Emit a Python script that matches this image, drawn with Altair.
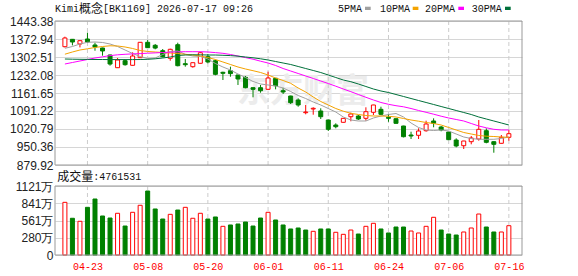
import altair as alt
import pandas as pd

# ---------------- data ----------------
dates = ["04-20", "04-21", "04-22", "04-23", "04-24", "04-27", "04-28", "04-29", "04-30", "05-06",
         "05-07", "05-08", "05-11", "05-12", "05-13", "05-14", "05-15", "05-18", "05-19", "05-20",
         "05-21", "05-22", "05-25", "05-26", "05-27", "05-28", "05-29", "06-01", "06-02", "06-03",
         "06-04", "06-05", "06-08", "06-09", "06-10", "06-11", "06-12", "06-15", "06-16", "06-17",
         "06-18", "06-22", "06-23", "06-24", "06-25", "06-26", "06-29", "06-30", "07-01", "07-02",
         "07-03", "07-06", "07-07", "07-08", "07-09", "07-10", "07-13", "07-14", "07-15", "07-16"]

open_p = [1342.8, 1371.7, 1353.4, 1373.0, 1349.5, 1337.7, 1310.3, 1260.6, 1288.0, 1270.0,
          1299.8, 1360.0, 1348.3, 1327.2, 1297.4, 1350.6, 1276.3, 1264.6, 1277.9, 1303.7,
          1288.0, 1242.6, 1248.9, 1232.1, 1223.1, 1182.4, 1182.4, 1176.1, 1219.2, 1170.6,
          1149.9, 1134.3, 1084.6, 1099.0, 1091.2, 1056.0, 1036.4, 1047.0, 1068.9, 1071.6,
          1062.6, 1086.1, 1097.8, 1066.5, 1061.0, 1032.5, 997.3, 996.1, 1014.1, 1052.1,
          1028.6, 1009.0, 977.7, 955.4, 971.1, 981.6, 1014.1, 971.1, 964.8, 988.3]
high_p = [1382.0, 1373.0, 1368.0, 1397.6, 1358.5, 1339.0, 1312.0, 1298.6, 1293.5, 1320.9,
          1361.0, 1369.0, 1353.4, 1333.8, 1335.0, 1358.5, 1294.7, 1280.2, 1323.0, 1314.3,
          1292.0, 1245.0, 1264.6, 1233.0, 1228.0, 1183.5, 1193.0, 1245.0, 1220.5, 1182.0,
          1151.0, 1140.9, 1114.7, 1105.7, 1101.8, 1057.0, 1043.0, 1063.5, 1084.6, 1075.5,
          1105.7, 1115.5, 1108.0, 1079.5, 1062.0, 1033.5, 1010.2, 1023.5, 1053.3, 1062.6,
          1032.5, 1010.0, 984.4, 974.5, 993.4, 1056.0, 1023.5, 972.0, 997.3, 1016.9]
low_p = [1340.0, 1348.0, 1340.0, 1360.0, 1327.0, 1307.6, 1268.5, 1259.5, 1268.5, 1269.0,
         1298.5, 1338.0, 1332.6, 1301.0, 1288.0, 1266.0, 1264.6, 1260.6, 1277.0, 1277.9,
         1230.9, 1212.5, 1225.4, 1193.0, 1180.0, 1144.8, 1162.8, 1173.0, 1176.0, 1157.7,
         1118.6, 1108.0, 1078.3, 1076.7, 1059.9, 1013.0, 1023.5, 1046.0, 1050.9, 1056.0,
         1053.3, 1075.5, 1075.5, 1049.0, 1042.0, 988.0, 981.6, 981.6, 1010.2, 1027.5,
         1011.8, 977.7, 949.0, 942.5, 960.9, 975.0, 964.8, 928.0, 964.0, 975.0]
close_p = [1376.9, 1361.2, 1366.3, 1361.2, 1341.6, 1326.0, 1275.0, 1290.8, 1272.4, 1306.4,
           1360.0, 1339.0, 1337.5, 1303.7, 1332.6, 1268.5, 1272.4, 1280.2, 1319.3, 1283.0,
           1234.8, 1238.7, 1237.5, 1216.4, 1182.4, 1176.0, 1170.6, 1220.4, 1190.2, 1165.6,
           1123.7, 1114.7, 1087.3, 1101.8, 1068.9, 1019.6, 1029.8, 1062.6, 1079.5, 1059.9,
           1088.5, 1114.7, 1078.3, 1062.6, 1043.0, 990.6, 993.4, 1013.0, 1040.3, 1043.1,
           1016.9, 979.0, 954.3, 973.8, 985.6, 1019.6, 968.7, 960.9, 988.3, 1002.4]

# volume in 万 (10k shares)
volume = [856, 597, 548, 775, 910, 634, 601, 678, 471, 694,
          808, 1040, 748, 585, 661, 731, 775, 597, 678, 585,
          618, 466, 488, 504, 536, 471, 601, 694, 569, 488,
          423, 439, 406, 385, 423, 423, 369, 336, 406, 341,
          466, 515, 423, 358, 455, 455, 390, 358, 466, 613,
          406, 341, 325, 374, 439, 666, 455, 374, 374, 476.1531]

ma5 = [1336.6, 1343.6, 1353.4, 1360.1, 1361.2, 1359.3, 1353.4, 1343.6, 1329.9, 1316.2,
       1304.5, 1296.7, 1298.6, 1312.3, 1324.1, 1326.0, 1313.1, 1306.4, 1304.5, 1294.7,
       1277.1, 1263.4, 1251.7, 1236.0, 1222.3, 1206.7, 1196.9, 1193.0, 1189.1, 1181.2,
       1167.5, 1151.9, 1140.1, 1126.4, 1114.7, 1101.0, 1087.3, 1067.8, 1056.0, 1052.1,
       1052.1, 1063.8, 1071.7, 1077.5, 1081.4, 1067.8, 1044.3, 1026.7, 1016.9, 1014.9,
       1016.9, 1013.0, 1001.2, 989.5, 983.6, 980.5, 980.5, 980.5, 983.6, 989.5]
ma10 = [1313.5, 1322.1, 1329.9, 1334.6, 1339.7, 1343.6, 1346.4, 1345.6, 1341.7, 1335.8,
        1328.0, 1324.1, 1322.1, 1320.1, 1318.2, 1316.2, 1313.1, 1310.4, 1306.4, 1300.6,
        1292.7, 1283.0, 1273.2, 1263.4, 1255.6, 1248.9, 1241.9, 1232.1, 1220.4, 1210.6,
        1199.6, 1181.2, 1165.6, 1146.0, 1128.4, 1114.7, 1101.0, 1090.4, 1082.2, 1077.5,
        1073.6, 1071.7, 1071.7, 1070.5, 1067.8, 1061.9, 1056.0, 1051.3, 1046.2, 1042.3,
        1036.4, 1026.7, 1016.9, 1007.1, 1001.2, 995.4, 992.6, 991.4, 989.5, 988.3]
ma20 = [1275.1, 1281.0, 1286.9, 1292.7, 1298.6, 1303.3, 1308.0, 1311.1, 1313.1, 1314.7,
        1315.8, 1317.4, 1318.6, 1320.1, 1321.3, 1322.5, 1323.3, 1323.3, 1323.3, 1322.1,
        1319.7, 1317.0, 1312.3, 1306.4, 1300.2, 1293.9, 1286.1, 1279.0, 1269.3, 1257.5,
        1247.7, 1238.0, 1228.2, 1218.4, 1208.6, 1198.8, 1188.3, 1177.3, 1166.8, 1155.8,
        1144.8, 1134.3, 1124.5, 1117.4, 1112.0, 1107.7, 1101.0, 1093.2, 1086.1, 1078.7,
        1070.9, 1063.8, 1058.0, 1052.1, 1042.3, 1032.5, 1025.5, 1019.6, 1016.9, 1016.9]
ma30 = [1294.7, 1293.9, 1293.5, 1293.1, 1292.7, 1292.7, 1292.4, 1292.4, 1292.4, 1292.4,
        1292.7, 1293.5, 1295.5, 1298.6, 1302.5, 1308.4, 1310.3, 1311.1, 1311.1, 1310.3,
        1310.3, 1309.2, 1308.0, 1305.7, 1302.5, 1299.4, 1295.5, 1290.8, 1284.9, 1279.0,
        1273.2, 1265.4, 1257.5, 1249.7, 1241.8, 1232.1, 1222.3, 1212.5, 1205.9, 1196.9,
        1187.1, 1177.3, 1169.5, 1163.6, 1155.8, 1148.0, 1140.1, 1132.3, 1124.5, 1116.7,
        1108.8, 1101.0, 1093.2, 1085.4, 1077.5, 1067.8, 1059.9, 1052.1, 1044.3, 1036.4]

price_ticks = [879.92, 950.36, 1020.79, 1091.22, 1161.65, 1232.08, 1302.51, 1372.94, 1443.38]
vol_ticks = [0, 280.35, 560.7, 841.05, 1121.4]
label_dates = ["04-23", "05-08", "05-20", "06-01", "06-11", "06-24", "07-06", "07-16"]
ma_names = ["5PMA", "10PMA", "20PMA", "30PMA"]

title_name = "Kimi"
title_cjk = "概念"
title_rest = "[BK1169] 2026-07-17 09:26"
vol_title = "成交量"
watermark = "东方财富"

# ---------------- styling ----------------
RED = "#ff0000"
GREEN = "#008000"
MA_COLORS = ["#a0a0a0", "#f4a300", "#ff00ff", "#00703a"]
BORDER = "#999999"
GRID = "#d6d6d6"
MONO = "Liberation Mono"
CJK = "Noto Sans CJK SC"
SANS = "Liberation Sans"

W, H = 467, 234
PH = 144          # price panel bottom (plot coords)
VT, VB = 165, 234  # volume panel top/bottom

n = len(dates)
df = pd.DataFrame({
    "i": list(range(n)), "date": dates,
    "open": open_p, "high": high_p, "low": low_p, "close": close_p,
    "vol": volume, "ma5": ma5, "ma10": ma10, "ma20": ma20, "ma30": ma30,
})
df["up"] = df["close"] >= df["open"]
df["vup"] = [True] + [c > p for c, p in zip(close_p[1:], close_p[:-1])]

tick_idx = [dates.index(d) for d in label_dates]
label_expr = "[" + ",".join("'%s'" % d for d in dates) + "][datum.value]"

xscale = alt.Scale(domain=[-0.65, n + 0.08], nice=False, zero=False)
xaxis = alt.Axis(values=tick_idx, labelExpr=label_expr, title=None, grid=False,
                 ticks=False, tickSize=0, domain=False, labelColor=RED, labelFont=MONO,
                 labelFontSize=10, labelPadding=6, labelFlush=False, labelOverlap=False)
X = alt.X("i:Q", scale=xscale, axis=xaxis)

pscale = alt.Scale(domain=[price_ticks[0], price_ticks[-1]], range=[PH, 0], nice=False, zero=False)
paxis = alt.Axis(values=price_ticks, format=".2f", title=None, grid=True, gridColor=GRID,
                 ticks=False, tickSize=0, domain=False, labelFont=SANS, labelFontSize=12,
                 labelColor="#222222", labelPadding=2, labelFlush=False, labelOverlap=False,
                 orient="left")
vscale = alt.Scale(domain=[0, vol_ticks[-1]], range=[VB, VT], nice=False)
vaxis = alt.Axis(values=vol_ticks, title=None, grid=True, gridColor=GRID,
                 labelExpr="datum.value == 0 ? '0' : format(datum.value, '.0f') + '万'",
                 ticks=False, tickSize=0, domain=False, labelFont=SANS, labelFontSize=12,
                 labelColor="#222222", labelPadding=2, labelFlush=False, labelOverlap=False,
                 orient="left")

base = alt.Chart(df)
one = pd.DataFrame({"a": [0]})

# watermark
wm = alt.Chart(pd.DataFrame({"t": [watermark]})).mark_text(
    font=CJK, fontSize=33, fontWeight="bold", color="#ececec", align="left", baseline="middle"
).encode(x=alt.value(182), y=alt.value(71), text="t:N")

# vertical dashed gridlines
tick_df = pd.DataFrame({"i": tick_idx})
vg_p = alt.Chart(tick_df).mark_rule(color="#cccccc", strokeDash=[4, 3], strokeWidth=1).encode(
    x=X, y=alt.value(0), y2=alt.value(PH))
vg_v = alt.Chart(tick_df).mark_rule(color="#cccccc", strokeDash=[4, 3], strokeWidth=1).encode(
    x=X, y=alt.value(VT), y2=alt.value(VB))

# candles
wick_up = base.transform_filter("datum.up").mark_rule(color=RED, strokeWidth=1).encode(
    x=X, y=alt.Y("low:Q", scale=pscale, axis=paxis), y2="high:Q")
wick_dn = base.transform_filter("!datum.up").mark_rule(color=GREEN, strokeWidth=1).encode(
    x=X, y=alt.Y("low:Q", scale=pscale, axis=paxis), y2="high:Q")
body_up = base.transform_filter("datum.up").mark_bar(size=4, fill="white", stroke=RED, strokeWidth=1).encode(
    x=X, y=alt.Y("open:Q", scale=pscale, axis=paxis), y2="close:Q")
body_dn = base.transform_filter("!datum.up").mark_bar(size=4, fill=GREEN, stroke=GREEN, strokeWidth=1).encode(
    x=X, y=alt.Y("open:Q", scale=pscale, axis=paxis), y2="close:Q")

ma_lines = base.transform_fold(["ma5", "ma10", "ma20", "ma30"], as_=["key", "value"]).mark_line(
    strokeWidth=1).encode(
    x=X, y=alt.Y("value:Q", scale=pscale, axis=paxis),
    color=alt.Color("key:N", scale=alt.Scale(domain=["ma5", "ma10", "ma20", "ma30"], range=MA_COLORS),
                    legend=None))

price_layer = alt.layer(wick_up, wick_dn, body_up, body_dn, ma_lines)

# volume
vol_up = base.transform_filter("datum.vup").mark_bar(size=4, fill="white", stroke=RED, strokeWidth=1).encode(
    x=X, y=alt.Y("vol:Q", scale=vscale, axis=vaxis))
vol_dn = base.transform_filter("!datum.vup").mark_bar(size=4, fill=GREEN, stroke=GREEN, strokeWidth=1).encode(
    x=X, y=alt.Y("vol:Q", scale=vscale, axis=vaxis))
vol_layer = alt.layer(vol_up, vol_dn)

# panel borders
border_p = alt.Chart(one).mark_rect(fill="transparent", stroke=BORDER, strokeWidth=1).encode(
    x=alt.value(0), x2=alt.value(W), y=alt.value(0), y2=alt.value(PH))
border_v = alt.Chart(one).mark_rect(fill="transparent", stroke=BORDER, strokeWidth=1).encode(
    x=alt.value(0), x2=alt.value(W), y=alt.value(VT), y2=alt.value(VB))


def txt(s, x, y, font, size, color="#111111"):
    return alt.Chart(pd.DataFrame({"t": [s]})).mark_text(
        font=font, fontSize=size, color=color, align="left", baseline="middle"
    ).encode(x=alt.value(x), y=alt.value(y), text="t:N")


texts = [
    txt(title_name, 0, -12.5, MONO, 10),
    txt(title_cjk, 24, -12.5, CJK, 12),
    txt(title_rest, 48, -12.5, MONO, 10),
    txt(vol_title, 2.3, 156, CJK, 12),
    txt(":" + str(int(round(volume[-1] * 10000))), 38.3, 156, MONO, 10),
]

legend_text_x = [283, 325, 370, 416.7]
legend_sq_x = [310, 357.7, 403.3, 450]
for name, col, tx, sx in zip(ma_names, MA_COLORS, legend_text_x, legend_sq_x):
    texts.append(txt(name, tx, -12.5, MONO, 10))
    texts.append(alt.Chart(one).mark_rect(fill=col).encode(
        x=alt.value(sx), x2=alt.value(sx + 5.7), y=alt.value(-14.3), y2=alt.value(-11)))

chart = alt.layer(
    wm, vg_p, vg_v, price_layer, vol_layer, border_p, border_v, *texts
).resolve_scale(y="independent").properties(
    width=W, height=H,
    padding={"left": 55, "top": 21, "right": 56, "bottom": 21},
    autosize=alt.AutoSizeParams(type="none"),
).configure_view(stroke="transparent")

chart.save("out.html", embed_options={"renderer": "svg", "actions": False})
